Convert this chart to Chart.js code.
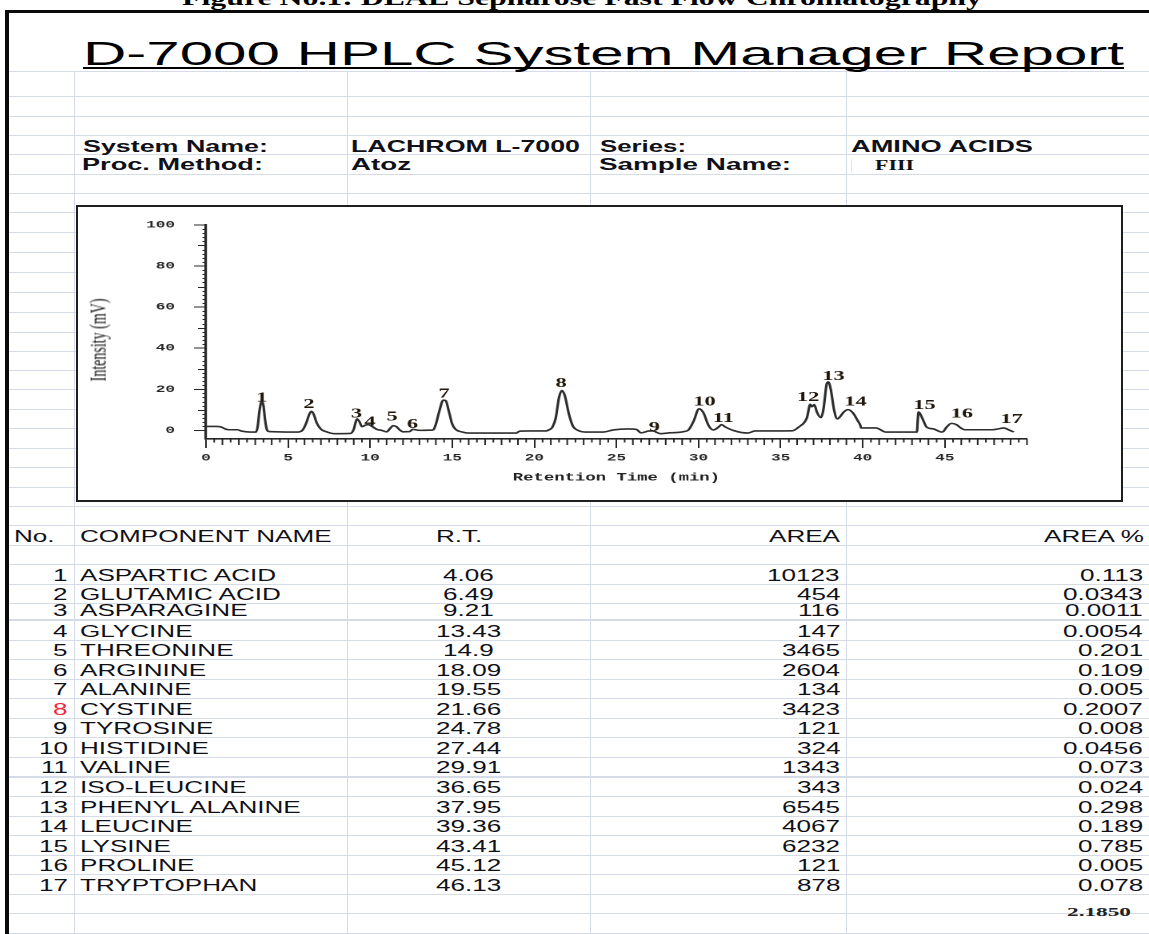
<!DOCTYPE html>
<html><head><meta charset="utf-8">
<script src="https://cdn.jsdelivr.net/npm/chart.js@4.4.1/dist/chart.umd.min.js"></script>
<style>
html,body{margin:0;padding:0;background:#fff;}
body{width:1149px;height:934px;position:relative;overflow:hidden;}
.t{position:absolute;white-space:nowrap;line-height:1;transform-origin:0 0;}
.ln{position:absolute;background:#d5dbe7;}
</style></head><body>
<script>
// ---------- DATA ----------
const captionText = 'Figure No.1: DEAE Sepharose Fast Flow Chromatography';
const reportTitle = 'D-7000 HPLC System Manager Report';
const infoLabels = ['System Name:', 'Proc. Method:', 'Series:', 'Sample Name:'];
const infoValues = ['LACHROM L-7000', 'Atoz', 'AMINO ACIDS', 'FIII'];
const tableHeaders = ['No.', 'COMPONENT NAME', 'R.T.', 'AREA', 'AREA %'];
const componentNo = [1,2,3,4,5,6,7,8,9,10,11,12,13,14,15,16,17];
const componentNames = ['ASPARTIC ACID','GLUTAMIC ACID','ASPARAGINE','GLYCINE','THREONINE','ARGININE','ALANINE','CYSTINE','TYROSINE','HISTIDINE','VALINE','ISO-LEUCINE','PHENYL ALANINE','LEUCINE','LYSINE','PROLINE','TRYPTOPHAN'];
const retentionTimes = ['4.06','6.49','9.21','13.43','14.9','18.09','19.55','21.66','24.78','27.44','29.91','36.65','37.95','39.36','43.41','45.12','46.13'];
const areas = ['10123','454','116','147','3465','2604','134','3423','121','324','1343','343','6545','4067','6232','121','878'];
const areaPercents = ['0.113','0.0343','0.0011','0.0054','0.201','0.109','0.005','0.2007','0.008','0.0456','0.073','0.024','0.298','0.189','0.785','0.005','0.078'];
const totalAreaPercent = '2.1850';

// chromatogram trace (time in min, intensity in mV)
const traceTime = [0.0,0.6,0.9,1.2,1.4,1.9,2.2,2.7,3.05,3.15,3.25,3.35,3.42,3.5,3.6,3.7,3.85,4.9,5.6,5.9,6.1,6.3,6.42,6.55,6.75,7.0,7.3,7.8,8.8,9.0,9.1,9.2,9.35,9.5,9.7,9.9,10.1,10.4,10.7,11.0,11.2,11.4,11.6,11.8,12.0,12.4,12.6,12.75,13.0,13.7,13.85,14.0,14.2,14.45,14.6,14.8,15.0,15.2,15.6,16.0,18.9,19.1,19.8,20.7,20.9,21.1,21.3,21.5,21.67,21.85,22.1,22.35,22.6,23.1,24.2,24.8,25.7,26.2,26.5,27.0,27.2,27.7,28.1,29.1,29.4,29.7,30.03,30.3,30.6,30.9,31.2,31.4,31.6,32.1,33.0,33.45,35.7,36.1,36.6,36.8,36.9,37.05,37.2,37.45,37.6,37.8,37.9,38.05,38.25,38.45,38.6,38.85,39.1,39.4,39.7,39.85,39.9,40.8,41.4,43.3,43.35,43.4,43.65,43.9,44.3,44.8,44.9,45.1,45.4,45.7,46.0,46.2,47.9,48.3,48.6,48.9,49.2];
const traceSignal = [1.9,1.9,1.7,0.6,0.3,0.3,-0.4,-0.8,-0.8,2,9,13.5,14,12,5,0.5,-0.6,-0.8,-0.8,0.3,3.5,8,9.3,8,3.5,0.6,-0.6,-1.6,-1.5,0.5,3.5,5.6,4.2,1.8,2.5,2.8,2.0,0.5,0.0,-0.7,0.8,2.3,1.8,0.2,-0.7,-0.6,0.5,0.3,0,0.1,0.3,3,9,14.7,14.5,9,3,0.5,-0.8,-1.3,-1.3,-0.4,-0.3,-0.3,0.3,1.6,6,16,19.4,17,8,2,0.2,-0.8,-0.8,0.2,0.7,0.5,-1.2,-0.3,-0.3,-1.6,-1.3,-0.6,0.3,4.5,10.5,8.5,2.5,0.2,1.5,2.8,1.8,0,-1.3,-0.3,-0.2,1.6,6.2,12.7,11.5,12.5,9,6.2,10,22.5,23.6,20,10,5.6,6.5,9,10.1,8.5,4.6,2.5,1.2,1.2,-0.8,-0.8,5,9.0,5.5,1.5,0.7,-0.8,-0.6,1.5,3.4,2.8,1.0,0.3,0.3,0.8,1.2,0.2,-0.8];

const peakIds = ['1','2','3','4','5','6','7','8','9','10','11','12','13','14','15','16','17'];
const peakLabelTime = [3.40,6.27,9.17,9.99,11.34,12.58,14.5,21.63,27.3,30.36,31.51,36.67,38.22,39.55,43.76,46.04,49.07];
const peakLabelSignal = [16.3,13.2,8.5,4.65,7.0,3.4,18.3,23.3,1.9,14.3,6.2,16.6,26.7,14.3,12.7,8.5,5.9];

const yTickValues = [0,20,40,60,80,100];
const xTickValues = [0,5,10,15,20,25,30,35,40,45];
const yAxisTitle = 'Intensity (mV)';
const xAxisTitle = 'Retention Time (min)';

// ---------- LAYOUT ----------
const SANS = '"Liberation Sans", Arial, sans-serif';
const SERIF = '"Liberation Serif", "Times New Roman", serif';
function line(x, y, w, h, color){
  const d = document.createElement('div'); d.className = 'ln';
  d.style.left = x+'px'; d.style.top = y+'px'; d.style.width = w+'px'; d.style.height = h+'px';
  if (color) d.style.background = color;
  document.body.appendChild(d); return d;
}
function txt(str, o){
  const e = document.createElement('div'); e.className = 't'; e.textContent = str;
  e.style.font = `${o.weight||'normal'} ${o.size}px ${o.fam||SANS}`;
  e.style.color = o.color || '#101018';
  document.body.appendChild(e);
  const w = e.getBoundingClientRect().width;
  const sx = o.fit ? o.fit / w : (o.sx || 1.58);
  const asc = o.fam === SERIF ? 0.8375 : 0.8465;
  e.style.top = (o.base - asc*o.size) + 'px';
  let left = o.x;
  if (o.align === 'right') left = o.x - w*sx;
  else if (o.align === 'center') left = o.x - w*sx/2;
  e.style.left = left + 'px';
  e.style.transform = `scaleX(${sx})`;
  return e;
}

// spreadsheet grid
const hLines = [71,96,116,135,154,174,193,212,232,252,272,292,312,332,351,370,389,409,428,448,467,487,506,525,545,564,584,603,619,620,640,659,679,698,718,737,757,776,777,796,816,835,855,874,894,913,933];
hLines.forEach(y => line(9, y, 1140, 1));
[74,347,590,846].forEach(x => line(x, 71, 1, 863));
// thick frame
line(5, 10, 1144, 3, '#0a0a0a');
line(5, 10, 4, 924, '#0a0a0a');
// small cell cursor mark
line(851, 159, 1, 14, '#f3e9a6');

// caption & title
txt(captionText, {x:182, base:3.3, size:20, weight:'bold', fam:SERIF, fit:800, color:'#000'});
txt(reportTitle, {x:83, base:63, size:34, fit:1041, color:'#000'});
line(83, 67, 1041, 2, '#000');

// info block
txt(infoLabels[0], {x:83, base:151, size:16.5, weight:'bold', fit:185});
txt(infoLabels[1], {x:82, base:169, size:16.5, weight:'bold', fit:181});
txt(infoValues[0], {x:351, base:151, size:16.5, weight:'bold', fit:229});
txt(infoValues[1], {x:351, base:169, size:16.5, weight:'bold', fit:60});
txt(infoLabels[2], {x:600, base:151, size:16.5, weight:'bold', fit:86});
txt(infoLabels[3], {x:599, base:169, size:16.5, weight:'bold', fit:192});
txt(infoValues[2], {x:851, base:151, size:16.5, weight:'bold', fit:182});
txt(infoValues[3], {x:875, base:170, size:15, weight:'bold', fam:SERIF, fit:39});

// chart box
const box = document.createElement('div');
box.style.cssText = 'position:absolute;left:76px;top:205px;width:1043px;height:293px;border:2px solid #1e1e1e;background:#fff;';
document.body.appendChild(box);
const wrap = document.createElement('div');
const CW = 652, CH = 293, SX = 1043/652;
wrap.style.cssText = `position:absolute;left:78px;top:207px;width:${CW}px;height:${CH}px;transform-origin:0 0;transform:scaleX(${SX});`;
const cv = document.createElement('canvas'); cv.width = CW; cv.height = CH;
cv.style.width = CW+'px'; cv.style.height = CH+'px';
wrap.appendChild(cv); document.body.appendChild(wrap);

// y axis title (rotated, stretched like the rest of the figure)
(function(){
  const e = document.createElement('div'); e.className = 't'; e.textContent = yAxisTitle;
  e.style.font = `normal 14px ${SERIF}`; e.style.color = '#161616';
  document.body.appendChild(e);
  const r = e.getBoundingClientRect();
  e.style.left = (99 - r.width/2) + 'px'; e.style.top = (340 - r.height/2) + 'px';
  e.style.transformOrigin = '50% 50%';
  e.style.transform = 'scaleX(1.6) rotate(-90deg)';
})();

// table header
txt(tableHeaders[0], {x:14, base:541, size:16.5});
txt(tableHeaders[1], {x:80, base:541, size:16.5});
txt(tableHeaders[2], {x:436, base:541, size:16.5});
txt(tableHeaders[3], {x:840, base:541, size:16.5, align:'right'});
txt(tableHeaders[4], {x:1144, base:541, size:16.5, align:'right'});

const rowBottoms = [584,603,619,640,659,679,698,718,737,757,776,796,816,835,855,874,894];
componentNo.forEach((n, i) => {
  const b = rowBottoms[i] - 4;
  txt(String(n), {x:68, base:b, size:16.5, align:'right', color: n === 8 ? '#f0283c' : '#101018'});
  txt(componentNames[i], {x:80, base:b, size:16.5});
  txt(retentionTimes[i], {x:468.5, base:b, size:16.5, align:'center'});
  txt(areas[i], {x:840, base:b, size:16.5, align:'right'});
  txt(areaPercents[i], {x:1143, base:b, size:16.5, align:'right'});
});
txt(totalAreaPercent, {x:1067, base:915, size:13, weight:'bold', fam:SERIF, fit:64, color:'#222'});

// ---------- CHART ----------
const AX = '#262626';
const minorTicks = {
  id: 'minorTicks',
  afterDraw(chart){
    const {ctx, chartArea, scales:{x, y}} = chart;
    ctx.save(); ctx.strokeStyle = AX; ctx.lineWidth = 1; ctx.beginPath();
    for (let v = 2; v < 100; v += 2) {
      if (v % 20 === 0) continue;
      const len = (v % 10 === 0) ? 5 : 2.2;
      const py = Math.round(y.getPixelForValue(v)) + 0.5;
      ctx.moveTo(chartArea.left, py); ctx.lineTo(chartArea.left - len, py);
    }
    for (let k = 1; k <= 100; k++) {
      const t = k / 2;
      if (t % 5 === 0 && t < 50) continue;
      const len = Number.isInteger(t) ? 6 : 3.5;
      const px = x.getPixelForValue(t);
      ctx.moveTo(px, chartArea.bottom); ctx.lineTo(px, chartArea.bottom + len);
    }
    ctx.stroke(); ctx.restore();
  }
};
const peakLabels = {
  id: 'peakLabels',
  afterDatasetsDraw(chart){
    const {ctx, scales:{x, y}} = chart;
    ctx.save();
    ctx.font = `bold 14px ${SERIF}`; ctx.fillStyle = '#21170b';
    ctx.textAlign = 'center'; ctx.textBaseline = 'alphabetic';
    peakIds.forEach((id, i) => {
      ctx.fillText(id, x.getPixelForValue(peakLabelTime[i]), y.getPixelForValue(peakLabelSignal[i]) + 4.6);
    });
    ctx.restore();
  }
};
const tickFont = {family: '"Liberation Mono", "Courier New", monospace', weight: 'bold', size: 10};
new Chart(cv.getContext('2d'), {
  type: 'line',
  data: {datasets: [{
    data: traceTime.map((t, i) => ({x: t, y: traceSignal[i]})),
    borderColor: '#2e2e2e', borderWidth: 1.6, pointRadius: 0, fill: false,
    cubicInterpolationMode: 'monotone'
  }]},
  options: {
    responsive: false, animation: false, devicePixelRatio: 2,
    layout: {padding: {left: 0, right: 58.8, top: 8, bottom: 0}},
    plugins: {legend: {display: false}, tooltip: {enabled: false}},
    scales: {
      x: {
        type: 'linear', min: 0, max: 50,
        afterBuildTicks: a => { a.ticks = xTickValues.map(v => ({value: v})); },
        afterFit: s => { s.height = 61; },
        grid: {drawOnChartArea: false, tickLength: 9, color: AX, lineWidth: 1},
        border: {color: AX, width: 1.6},
        ticks: {font: tickFont, color: '#2a2a2a', padding: 4, maxRotation: 0, autoSkip: false},
        title: {display: true, text: xAxisTitle, color: '#222',
          font: {family: '"Liberation Mono", "Courier New", monospace', weight: 'bold', size: 10.8},
          padding: {top: 0, bottom: 15.7}}
      },
      y: {
        type: 'linear', min: -4.2, max: 100,
        afterBuildTicks: a => { a.ticks = yTickValues.map(v => ({value: v})); },
        afterFit: s => { s.width = 80; },
        grid: {drawOnChartArea: false, tickLength: 7.5, color: AX, lineWidth: 1},
        border: {color: AX, width: 1.6},
        ticks: {font: tickFont, color: '#2a2a2a', padding: 11.9, autoSkip: false}
      }
    }
  },
  plugins: [minorTicks, peakLabels]
});
</script>
</body></html>
